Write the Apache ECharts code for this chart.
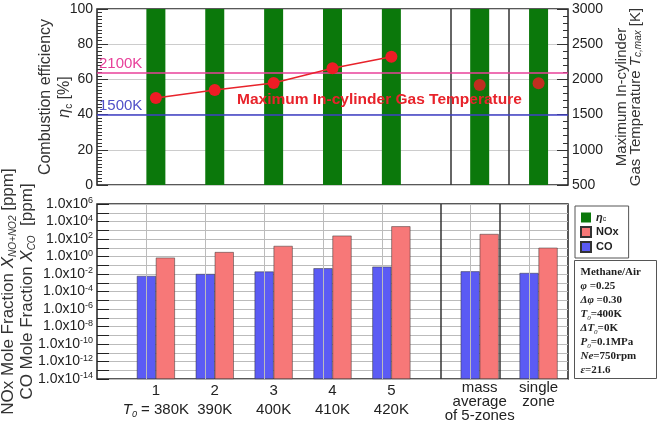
<!DOCTYPE html>
<html>
<head>
<meta charset="utf-8">
<title>5-zone HCCI</title>
<script src="https://cdn.jsdelivr.net/npm/echarts@6/dist/echarts.min.js"></script>
<style>
  html, body { margin: 0; padding: 0; background: #fff; }
  #main { width: 659px; height: 424px; }
</style>
</head>
<body>
<div id="main"></div>
<script>
// group positions on the x scale (0..8), two extra groups after the dividers
var xPos = [1, 2, 3, 4, 5, 6.5, 7.5];
var dividers = [6, 7];
var xLabels = ['1\nT0 = 380K', '2\n390K', '3\n400K', '4\n410K', '5\n420K', 'mass\naverage\nof 5-zones', 'single\nzone'];

// top panel
var etaC = [100, 100, 100, 100, 100, 100, 100];          // combustion efficiency [%]
var tMax = [1736, 1849, 1949, 2157, 2323, 1920, 1944];   // max in-cylinder gas temperature [K]
var tLines = [2100, 1500];

// bottom panel [ppm]
var nox = [0.74, 3.2, 16, 240, 2800, 370, 10];
var co = [0.006, 0.010, 0.019, 0.045, 0.069, 0.020, 0.013];
var EXP_MIN = -14, EXP_MAX = 6;

var myChart = echarts.init(document.getElementById('main'));

function pts(vals, from, to) {
  var out = [];
  for (var i = from; i < to; i++) out.push([xPos[i], vals[i]]);
  return out;
}
function logPts(vals) {
  var out = [];
  for (var i = 0; i < vals.length; i++) out.push([xPos[i], Math.log10(vals[i]) - EXP_MIN]);
  return out;
}

var font = 'Liberation Sans, Arial, sans-serif';
var serif = 'Liberation Serif, Times New Roman, serif';
var gridLines = [];
for (var i = 0; i < xPos.length; i++) gridLines.push({ xAxis: xPos[i], lineStyle: { color: '#bbb', width: 1, type: 'solid' } });
var divLines = [];
for (var j = 0; j < dividers.length; j++) divLines.push({ xAxis: dividers[j], lineStyle: { color: '#333', width: 1.5, type: 'solid' } });

var noSplit = { show: false, lineStyle: { opacity: 0 } };

var option = {
  animation: false,
  textStyle: { fontFamily: font },
  grid: [
    { left: 97, right: 91, top: 9, height: 176, show: true, borderColor: '#222', borderWidth: 1.5, outerBoundsMode: 'none', containLabel: false },
    { left: 97, right: 91, top: 204, height: 175, show: true, borderColor: '#222', borderWidth: 1.5, outerBoundsMode: 'none', containLabel: false }
  ],
  xAxis: [
    { type: 'value', gridIndex: 0, min: 0, max: 8, interval: 1,
      axisLine: { show: false }, axisTick: { show: false }, axisLabel: { show: false }, splitLine: noSplit, minorSplitLine: noSplit },
    { type: 'value', gridIndex: 1, min: 0, max: 8, interval: 0.5,
      axisLine: { show: false }, axisTick: { show: false }, splitLine: noSplit, minorSplitLine: noSplit,
      axisLabel: {
        margin: 2, color: '#222', fontSize: 15,
        formatter: function (v) {
          var k = xPos.indexOf(v);
          if (k < 0) return '';
          var tag = k >= 5 ? 'g' : 'n';
          return xLabels[k].split('\n').map(function (line) {
            if (line.indexOf('T0') === 0) return '{it|T}{sub|0}{n|' + line.slice(2) + '}';
            return '{' + tag + '|' + line + '}';
          }).join('\n');
        },
        rich: {
          n: { fontSize: 15, color: '#222', lineHeight: 19 },
          g: { fontSize: 15, color: '#222', lineHeight: 14 },
          it: { fontSize: 15, color: '#222', fontStyle: 'italic', lineHeight: 19 },
          sub: { fontSize: 9, color: '#222', fontStyle: 'italic', verticalAlign: 'bottom', lineHeight: 19 }
        }
      } }
  ],
  yAxis: [
    { type: 'value', gridIndex: 0, min: 0, max: 100, interval: 20, position: 'left',
      axisLine: { show: false },
      axisTick: { show: true, inside: true, length: 11, lineStyle: { color: '#333' } },
      minorTick: { show: true, splitNumber: 10, length: 5, lineStyle: { color: '#333' } },
      splitLine: { show: true, lineStyle: { color: '#ccc' } },
      axisLabel: { color: '#222', fontSize: 14, margin: 4 },
      name: '{a|Combustion efficiency}\n{e|η}{s|c}{a| [%]}', nameLocation: 'middle', nameRotate: 90, nameGap: 23,
      nameMoveOverlap: false,
      nameTextStyle: { rich: {
        a: { fontSize: 16, color: '#333', lineHeight: 19 },
        e: { fontSize: 16, color: '#333', fontStyle: 'italic', lineHeight: 19 },
        s: { fontSize: 10, color: '#333', verticalAlign: 'bottom', lineHeight: 19 }
      } } },
    { type: 'value', gridIndex: 0, min: 500, max: 3000, interval: 500, position: 'right',
      axisLine: { show: false },
      axisTick: { show: true, inside: true, length: 11, lineStyle: { color: '#333' } },
      minorTick: { show: true, splitNumber: 5, length: 5, lineStyle: { color: '#333' } },
      splitLine: { show: false },
      axisLabel: { color: '#222', fontSize: 14, margin: 4, formatter: function (v) { return String(v); } },
      name: '{a|Maximum In-cylinder}\n{a|Gas Temperature }{e|T}{s|c,max}{a| [K]}', nameLocation: 'middle', nameRotate: 90, nameGap: 47,
      nameMoveOverlap: false,
      nameTextStyle: { rich: {
        a: { fontSize: 15, color: '#333', lineHeight: 14 },
        e: { fontSize: 15, color: '#333', fontStyle: 'italic', lineHeight: 14 },
        s: { fontSize: 10, color: '#333', fontStyle: 'italic', verticalAlign: 'bottom', lineHeight: 14 }
      } } },
    { type: 'value', gridIndex: 1, min: 0, max: EXP_MAX - EXP_MIN, interval: 1,
      axisLine: { show: false },
      axisTick: { show: true, inside: true, length: 12, lineStyle: { color: '#222' } },
      splitLine: { show: true, lineStyle: { color: '#bbb' } },
      axisLabel: {
        margin: 4,
        formatter: function (v) {
          if (v % 2) return '';
          return '{m|1.0x10}{e|' + (v + EXP_MIN) + '}';
        },
        rich: {
          m: { fontSize: 14, color: '#222', lineHeight: 15 },
          e: { fontSize: 9, color: '#222', verticalAlign: 'top', lineHeight: 15 }
        }
      },
      name: '{a|NOx Mole Fraction }{e|X}{s|NO+NO2}{a| [ppm]}\n{a|CO Mole Fraction }{e|X}{s|CO}{a|  [ppm]}',
      nameLocation: 'middle', nameRotate: 90, nameGap: 60, nameMoveOverlap: false,
      nameTextStyle: { rich: {
        a: { fontSize: 17, color: '#333', lineHeight: 19 },
        e: { fontSize: 17, color: '#333', fontStyle: 'italic', lineHeight: 19 },
        s: { fontSize: 10, color: '#333', fontStyle: 'italic', verticalAlign: 'bottom', lineHeight: 19 }
      } } }
  ],
  legend: {
    orient: 'vertical', left: 575, top: 206, itemWidth: 10, itemHeight: 10, itemGap: 3,
    padding: [6, 10, 5, 5], borderColor: '#555', borderWidth: 1, icon: 'rect',
    data: ['eta', 'NOx', 'CO'],
    formatter: function (name) {
      return name === 'eta' ? '{e|η}{s|c}' : '{b|' + name + '}';
    },
    textStyle: { rich: {
      b: { fontSize: 11, color: '#222', fontWeight: 'bold' },
      e: { fontSize: 11, color: '#222', fontStyle: 'italic', fontWeight: 'bold' },
      s: { fontSize: 7, color: '#222', verticalAlign: 'bottom' }
    } }
  },
  graphic: [
    { type: 'text', left: 237, top: 92, z: 10,
      style: { text: 'Maximum In-cylinder Gas Temperature', fill: '#e8232b', font: 'bold 15.5px ' + font } },
    { type: 'group', left: 574, top: 260, children: [
      { type: 'rect', shape: { x: 0, y: 0, width: 82, height: 118 }, style: { fill: '#fff', stroke: '#555', lineWidth: 1 } },
      { type: 'text', x: 6, y: 5, style: {
        text: '{b|Methane/Air}\n{i|φ}{b| =0.25}\n{i|Δφ}{b| =0.30}\n{i|T}{s|0}{b|=400K}\n{i|ΔT}{s|0}{b|=0K}\n{i|P}{s|0}{b|=0.1MPa}\n{i|Ne}{b|=750rpm}\n{i|ε}{b|=21.6}',
        rich: {
          b: { font: 'bold 11px ' + serif, fill: '#222', lineHeight: 14 },
          i: { font: 'italic bold 11px ' + serif, fill: '#222', lineHeight: 14 },
          s: { font: 'italic 7px ' + serif, fill: '#222', verticalAlign: 'bottom', lineHeight: 14 }
        } } }
    ] }
  ],
  series: [
    { name: 'eta', type: 'bar', xAxisIndex: 0, yAxisIndex: 0, barWidth: 19,
      itemStyle: { color: '#0b780b' }, data: pts(etaC, 0, etaC.length),
      markLine: { silent: true, symbol: 'none', label: { show: false }, data: divLines } },
    { name: 'Tmax', type: 'line', xAxisIndex: 0, yAxisIndex: 1, z: 5,
      symbol: 'circle', symbolSize: 12, lineStyle: { color: '#e8232b', width: 1.5 },
      itemStyle: { color: '#ee1c25' }, data: pts(tMax, 0, 5),
      markLine: { silent: true, symbol: 'none',
        data: [
          { yAxis: tLines[0], lineStyle: { color: '#e8409a', width: 1.5, type: 'solid' },
            label: { position: 'insideStartTop', formatter: tLines[0] + 'K', color: '#e8409a', fontSize: 15, distance: [2, 1] } },
          { yAxis: tLines[1], lineStyle: { color: '#4040c8', width: 1.5, type: 'solid' },
            label: { position: 'insideStartTop', formatter: tLines[1] + 'K', color: '#5050c8', fontSize: 15, distance: [2, 1] } }
        ] } },
    { name: 'Tmax2', type: 'scatter', xAxisIndex: 0, yAxisIndex: 1, z: 5,
      symbol: 'circle', symbolSize: 12, itemStyle: { color: '#ee1c25' }, data: pts(tMax, 5, 7) },
    { name: 'CO', type: 'bar', xAxisIndex: 1, yAxisIndex: 2, barWidth: 19, barGap: '0%',
      itemStyle: { color: '#5b5bf4', borderColor: '#333', borderWidth: 0.5 }, data: logPts(co),
      markLine: { silent: true, symbol: 'none', label: { show: false }, data: gridLines.concat(divLines) } },
    { name: 'NOx', type: 'bar', xAxisIndex: 1, yAxisIndex: 2, barWidth: 19, barGap: '0%',
      itemStyle: { color: '#f77878', borderColor: '#333', borderWidth: 0.5 }, data: logPts(nox) }
  ]
};

myChart.setOption(option);
</script>
</body>
</html>
